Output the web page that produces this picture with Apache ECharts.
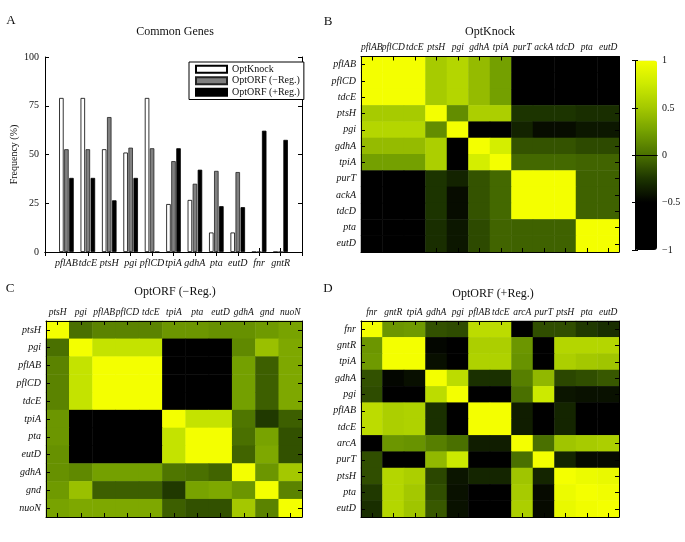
<!DOCTYPE html>
<html><head><meta charset="utf-8">
<script src="https://cdn.jsdelivr.net/npm/echarts@6/dist/echarts.min.js"></script>
<style>html,body{margin:0;padding:0;background:#fff}#c{width:685px;height:542px}</style>
</head><body><div id="c"></div>
<script>
// ---------- Panel A data ----------
const barGenes = ['pflAB','tdcE','ptsH','pgi','pflCD','tpiA','gdhA','pta','eutD','fnr','gntR'];
const seriesNames = ['OptKnock','OptORF (\u2212Reg.)','OptORF (+Reg.)'];
const optKnockFreq   = [79, 79, 52.7, 51, 79, 24.6, 26.7, 10, 10, 0, 0];
const optOrfMinusFreq = [52.7, 52.7, 69.2, 53.5, 53.2, 46.6, 35, 41.6, 41, 0, 0];
const optOrfPlusFreq  = [38, 38, 26.5, 38, 0, 53.2, 42.2, 23.5, 23, 62.2, 57.5];
const freqTicks = [0, 25, 50, 75, 100];

// ---------- Panel B data (OptKnock) ----------
const genesB = ['pflAB','pflCD','tdcE','ptsH','pgi','gdhA','tpiA','purT','ackA','tdcD','pta','eutD'];
const corrB = [
  [1, 1, 1, 0.52, 0.6, 0.42, 0.25, -1, -1, -1, -1, -1],
  [1, 1, 1, 0.52, 0.6, 0.42, 0.25, -1, -1, -1, -1, -1],
  [1, 1, 1, 0.52, 0.6, 0.42, 0.25, -1, -1, -1, -1, -1],
  [0.52, 0.52, 0.52, 1, 0.15, 0.55, 0.55, -0.25, -0.25, -0.25, -0.28, -0.28],
  [0.6, 0.6, 0.6, 0.15, 1, -1, -1, -0.33, -0.44, -0.44, -0.39, -0.39],
  [0.42, 0.42, 0.42, 0.55, -1, 1, 0.8, -0.12, -0.12, -0.12, -0.16, -0.16],
  [0.25, 0.25, 0.25, 0.55, -1, 0.8, 1, -0.03, -0.03, -0.03, -0.05, -0.05],
  [-1, -1, -1, -0.25, -0.33, -0.12, -0.03, 1, 1, 1, -0.06, -0.06],
  [-1, -1, -1, -0.25, -0.44, -0.12, -0.03, 1, 1, 1, -0.06, -0.06],
  [-1, -1, -1, -0.25, -0.44, -0.12, -0.03, 1, 1, 1, -0.06, -0.06],
  [-1, -1, -1, -0.28, -0.39, -0.16, -0.05, -0.06, -0.06, -0.06, 1, 1],
  [-1, -1, -1, -0.28, -0.39, -0.16, -0.05, -0.06, -0.06, -0.06, 1, 1]
];

// ---------- Panel C data (OptORF -Reg.) ----------
const genesC = ['ptsH','pgi','pflAB','pflCD','tdcE','tpiA','pta','eutD','gdhA','gnd','nuoN'];
const corrC = [
  [1, 0.0, 0.1, 0.1, 0.1, 0.2, 0.2, 0.17, 0.17, 0.22, 0.27],
  [0.0, 1, 0.7, 0.7, 0.7, -1, -1, -1, 0.13, 0.45, 0.3],
  [0.1, 0.7, 1, 1, 1, -1, -1, -1, 0.25, -0.07, 0.3],
  [0.1, 0.7, 1, 1, 1, -1, -1, -1, 0.25, -0.07, 0.3],
  [0.1, 0.7, 1, 1, 1, -1, -1, -1, 0.25, -0.07, 0.3],
  [0.2, -1, -1, -1, -1, 1, 0.7, 0.7, 0.03, -0.23, -0.07],
  [0.2, -1, -1, -1, -1, 0.7, 1, 1, 0.0, 0.27, -0.13],
  [0.17, -1, -1, -1, -1, 0.7, 1, 1, -0.05, 0.3, -0.13],
  [0.17, 0.13, 0.25, 0.25, 0.25, 0.03, 0.0, -0.05, 1, 0.2, 0.5],
  [0.22, 0.45, -0.07, -0.07, -0.07, -0.23, 0.27, 0.3, 0.2, 1, 0.1],
  [0.27, 0.3, 0.3, 0.3, 0.3, -0.07, -0.13, -0.13, 0.5, 0.1, 1]
];

// ---------- Panel D data (OptORF +Reg.) ----------
const genesD = ['fnr','gntR','tpiA','gdhA','pgi','pflAB','tdcE','arcA','purT','ptsH','pta','eutD'];
const corrD = [
  [1, 0.2, 0.22, -0.13, -0.15, 0.65, 0.65, -1, -0.14, -0.14, -0.23, -0.28],
  [0.2, 1, 1, -0.47, -0.6, 0.55, 0.55, 0.2, -0.6, 0.6, 0.6, 0.6],
  [0.22, 1, 1, -0.43, -0.6, 0.57, 0.57, 0.18, -0.6, 0.55, 0.5, 0.48],
  [-0.13, -0.47, -0.43, 1, 0.65, -0.27, -0.27, 0.08, 0.4, -0.17, -0.14, -0.1],
  [-0.15, -0.6, -0.6, 0.65, 1, -0.6, -0.6, 0.0, 0.75, -0.4, -0.42, -0.42],
  [0.65, 0.55, 0.57, -0.27, -0.6, 1, 1, -0.36, -0.5, -0.32, -0.5, -0.5],
  [0.65, 0.55, 0.57, -0.27, -0.6, 1, 1, -0.36, -0.5, -0.32, -0.5, -0.5],
  [-1, 0.2, 0.18, 0.08, 0.0, -0.36, -0.36, 1, 0.0, 0.48, 0.52, 0.55],
  [-0.14, -0.6, -0.6, 0.4, 0.75, -0.5, -0.5, 0.0, 1, -0.32, -0.45, -0.45],
  [-0.14, 0.6, 0.55, -0.17, -0.4, -0.32, -0.32, 0.48, -0.32, 1, 0.95, 0.93],
  [-0.23, 0.6, 0.5, -0.14, -0.42, -0.5, -0.5, 0.52, -0.45, 0.95, 1, 0.98],
  [-0.28, 0.6, 0.48, -0.1, -0.42, -0.5, -0.5, 0.55, -0.45, 0.93, 0.98, 1]
];
const colorbarTicks = [-1, -0.5, 0, 0.5, 1];
const colorStops = ['#000000','#000000','#000000','#1c3400','#4a7000','#74a000','#a4c800','#ccea00','#f4ff00'];

// ---------- build ----------
const SERIF = "'Liberation Serif','Times New Roman',serif";
const chart = echarts.init(document.getElementById('c'));
const pad = arr => [null, ...arr, null];
const barAxisCats = ['', ...barGenes, ''];
function heatData(mat){ const d=[]; mat.forEach((row,i)=>row.forEach((v,j)=>d.push([j,i,v]))); return d; }
const lineBlack = {show:true, lineStyle:{color:'#000', width:1}};
const tickIn = {show:true, inside:true, length:4, lineStyle:{color:'#000', width:1}};
const labelItalic = {fontFamily:SERIF, fontStyle:'italic', fontSize:10, color:'#111'};

function catX(grid, data, pos, withLabels){
  return {type:'category', gridIndex:grid, data:data, position:pos, z:5,
    axisLine:lineBlack, axisTick:Object.assign({alignWithLabel:true, interval:0}, tickIn),
    axisLabel: withLabels ? Object.assign({}, labelItalic, {interval:0, margin:4, hideOverlap:false, fontSize:9.5}) : {show:false},
    splitLine:{show:false}};
}
function catY(grid, data, pos, withLabels){
  return {type:'category', gridIndex:grid, data:data, position:pos, inverse:true, z:5,
    axisLine:lineBlack, axisTick:Object.assign({alignWithLabel:true, interval:0}, tickIn),
    axisLabel: withLabels ? Object.assign({interval:0, margin:5}, labelItalic) : {show:false},
    splitLine:{show:false}};
}

const option = {
  animation:false,
  backgroundColor:'#fff',
  grid:[
    {left:45, top:57, width:257, height:195},
    {left:361, top:56.5, width:258, height:195.5},
    {left:46, top:321, width:256, height:196},
    {left:361, top:321, width:258, height:196},
    {left:635, top:60.5, width:22, height:189.5}
  ],
  xAxis:[
    {type:'category', gridIndex:0, data:barAxisCats, boundaryGap:false, position:'bottom',
      axisLine:lineBlack, axisTick:Object.assign({interval:0}, tickIn),
      axisLabel:Object.assign({interval:0, margin:6}, labelItalic), splitLine:{show:false}},
    {type:'category', gridIndex:0, data:barAxisCats, boundaryGap:false, position:'top',
      axisLine:lineBlack, axisTick:Object.assign({interval:0}, tickIn), axisLabel:{show:false}},
    catX(1, genesB, 'top', true), catX(1, genesB, 'bottom', false),
    catX(2, genesC, 'top', true), catX(2, genesC, 'bottom', false),
    catX(3, genesD, 'top', true), catX(3, genesD, 'bottom', false),
    {type:'value', gridIndex:4, min:0, max:1, position:'bottom', z:10, axisLine:lineBlack, axisTick:{show:false}, axisLabel:{show:false}, splitLine:{show:false}},
    {type:'value', gridIndex:4, min:0, max:1, position:'top', z:10, axisLine:lineBlack, axisTick:{show:false}, axisLabel:{show:false}, splitLine:{show:false}}
  ],
  yAxis:[
    {type:'value', gridIndex:0, min:freqTicks[0], max:freqTicks[freqTicks.length-1], interval:25, position:'left',
      name:'Frequency (%)', nameLocation:'middle', nameGap:26, nameRotate:90,
      nameTextStyle:{fontFamily:SERIF, fontSize:10, color:'#111'},
      axisLine:lineBlack, axisTick:tickIn, axisLabel:{fontFamily:SERIF, fontSize:10, color:'#111', margin:6}, splitLine:{show:false}},
    {type:'value', gridIndex:0, min:0, max:100, interval:25, position:'right',
      axisLine:lineBlack, axisTick:tickIn, axisLabel:{show:false}, splitLine:{show:false}},
    catY(1, genesB, 'left', true), catY(1, genesB, 'right', false),
    catY(2, genesC, 'left', true), catY(2, genesC, 'right', false),
    catY(3, genesD, 'left', true), catY(3, genesD, 'right', false),
    {type:'value', gridIndex:4, min:colorbarTicks[0], max:colorbarTicks[colorbarTicks.length-1], interval:0.5, position:'right', z:10,
      axisLine:lineBlack, axisTick:{show:true, inside:true, length:3, lineStyle:{color:'#000'}},
      axisLabel:{fontFamily:SERIF, fontSize:10, color:'#111', margin:5,
        formatter:v => String(v).replace('-', '\u2212')}, splitLine:{show:false}},
    {type:'value', gridIndex:4, min:-1, max:1, interval:0.5, position:'left', z:10,
      axisLine:lineBlack, axisTick:{show:true, inside:true, length:3, lineStyle:{color:'#000'}},
      axisLabel:{show:false}, splitLine:{show:false}}
  ],
  legend:{
    data:seriesNames, orient:'vertical', left:189, top:62, icon:'rect',
    itemWidth:31, itemHeight:7, itemGap:1, padding:[2,4,2,6],
    borderColor:'#000', borderWidth:1, backgroundColor:'#fff',
    textStyle:{fontFamily:SERIF, fontSize:10, lineHeight:10.5, color:'#111'}, selectedMode:false
  },
  visualMap:{
    type:'continuous', min:-1, max:1, seriesIndex:[3,4,5], calculable:false,
    left:635, top:60.5, itemWidth:22, itemHeight:189.5, padding:0, text:null, showLabel:false,
    inRange:{color:colorStops}, hoverLink:false
  },
  series:[
    {name:seriesNames[0], type:'bar', xAxisIndex:0, yAxisIndex:0, data:pad(optKnockFreq), barWidth:4.5, barGap:'12%',
      itemStyle:{color:'#ffffff', borderColor:'#000', borderWidth:0.8}},
    {name:seriesNames[1], type:'bar', xAxisIndex:0, yAxisIndex:0, data:pad(optOrfMinusFreq), barWidth:4.5, barGap:'12%',
      itemStyle:{color:'#808080', borderColor:'#222', borderWidth:0.8}},
    {name:seriesNames[2], type:'bar', xAxisIndex:0, yAxisIndex:0, data:pad(optOrfPlusFreq), barWidth:4.5, barGap:'12%',
      itemStyle:{color:'#000000', borderColor:'#000', borderWidth:0.8}},
    {type:'heatmap', xAxisIndex:2, yAxisIndex:2, data:heatData(corrB), emphasis:{disabled:true}},
    {type:'heatmap', xAxisIndex:4, yAxisIndex:4, data:heatData(corrC), emphasis:{disabled:true}},
    {type:'heatmap', xAxisIndex:6, yAxisIndex:6, data:heatData(corrD), emphasis:{disabled:true}}
  ],
  graphic:[
    {type:'text', x:11, y:21, style:{text:'A', font:'13px '+SERIF, fill:'#111', align:'center', verticalAlign:'middle'}},
    {type:'text', x:328, y:22, style:{text:'B', font:'13px '+SERIF, fill:'#111', align:'center', verticalAlign:'middle'}},
    {type:'text', x:10, y:289, style:{text:'C', font:'13px '+SERIF, fill:'#111', align:'center', verticalAlign:'middle'}},
    {type:'text', x:328, y:289, style:{text:'D', font:'13px '+SERIF, fill:'#111', align:'center', verticalAlign:'middle'}},
    {type:'text', x:175, y:32, style:{text:'Common Genes', font:'12px '+SERIF, fill:'#111', align:'center', verticalAlign:'middle'}},
    {type:'text', x:490, y:32, style:{text:'OptKnock', font:'12px '+SERIF, fill:'#111', align:'center', verticalAlign:'middle'}},
    {type:'text', x:175, y:292, style:{text:'OptORF (\u2212Reg.)', font:'12px '+SERIF, fill:'#111', align:'center', verticalAlign:'middle'}},
    {type:'text', x:493, y:294, style:{text:'OptORF (+Reg.)', font:'12px '+SERIF, fill:'#111', align:'center', verticalAlign:'middle'}}
  ]
};
chart.setOption(option);
</script>
</body></html>
